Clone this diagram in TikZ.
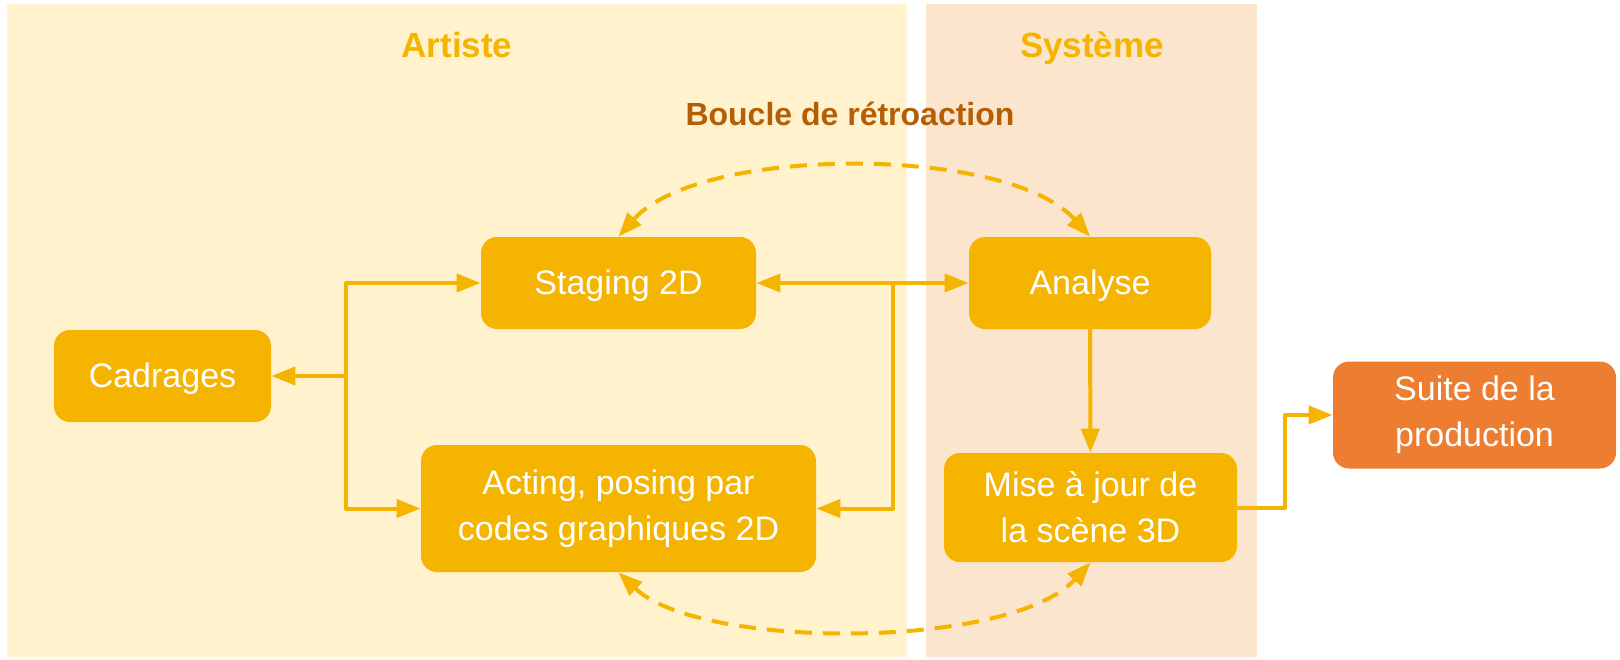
\documentclass[tikz,border=0pt]{standalone}
\usepackage{fontspec}
\setmainfont{Liberation Sans}
\usetikzlibrary{arrows.meta}
\definecolor{jaune}{HTML}{F4B400}
\definecolor{fondartiste}{HTML}{FFF2CC}
\definecolor{fondsysteme}{HTML}{FCE5CD}
\definecolor{orangeprod}{HTML}{ED7D31}
\definecolor{brun}{HTML}{B45F06}
\tikzset{etape/.style={fill=jaune,text=white,rounded corners=8pt,align=center,inner sep=0pt,
    font=\fontsize{17}{23}\selectfont,execute at begin node={\rule{0pt}{15pt}}},
  lien/.style={draw=jaune,line width=2pt},
  boucle/.style={lien,line cap=butt,dash pattern=on 8.5pt off 5.5pt},
  titre/.style={anchor=base,text=jaune,font=\bfseries\fontsize{17.5}{21}\selectfont}}

\begin{document}
\begin{tikzpicture}[line cap=round,line join=round,>={Triangle[length=12pt,width=9pt]},x=0.5pt,y=-0.5pt]
\useasboundingbox (0,0) rectangle (1620,659);
\fill [fondartiste] (7,4) rectangle (907,657);
\fill [fondsysteme] (926,4) rectangle (1257,657);
\node [titre] (artiste) at (457,57) {Artiste};
\node [titre] (systeme) at (1092,57) {Système};
\node [titre,text=brun,font=\bfseries\fontsize{16}{20}\selectfont] (retro) at (850,125) {Boucle de rétroaction};
\node [etape,minimum width=137.5pt,minimum height=46pt] (stag) at (618.5,283) {Staging 2D};
\node [etape,minimum width=121pt,minimum height=46pt] (anal) at (1090,283) {Analyse};
\node [etape,minimum width=108.5pt,minimum height=46pt] (cadr) at (162.5,376) {Cadrages};
\node [etape,minimum width=197.5pt,minimum height=63.5pt] (act) at (618.5,508.5) {Acting, posing par\\codes graphiques 2D};
\node [etape,minimum width=146.5pt,minimum height=54.5pt] (mise) at (1090.5,507.5) {Mise à jour de\\la scène 3D};
\node [etape,fill=orangeprod,minimum width=141.5pt,minimum height=53.5pt] (suite) at (1474.5,415) {Suite de la\\production};
\coordinate (gauche) at (346,376);
\coordinate (droite) at (893,283);
\draw [lien,->] (gauche) -- (cadr.east);
\draw [lien,->] (gauche) |- (stag.west);
\draw [lien,->] (gauche) |- (act.west);
\draw [lien,<->] (stag) -- (anal);
\draw [lien,->] (droite) |- (act.east);
\draw [lien,->] (anal) -- (mise);
\draw [lien,->] (mise.east) -- ++(48,0) |- (suite.west);
\draw [boucle,<->] (stag.north) .. controls (700,145) and (1008,145) .. (anal.north);
\draw [boucle,<->] (act.south) .. controls (700,650) and (1010,650) .. (mise.south);
\end{tikzpicture}
\end{document}
